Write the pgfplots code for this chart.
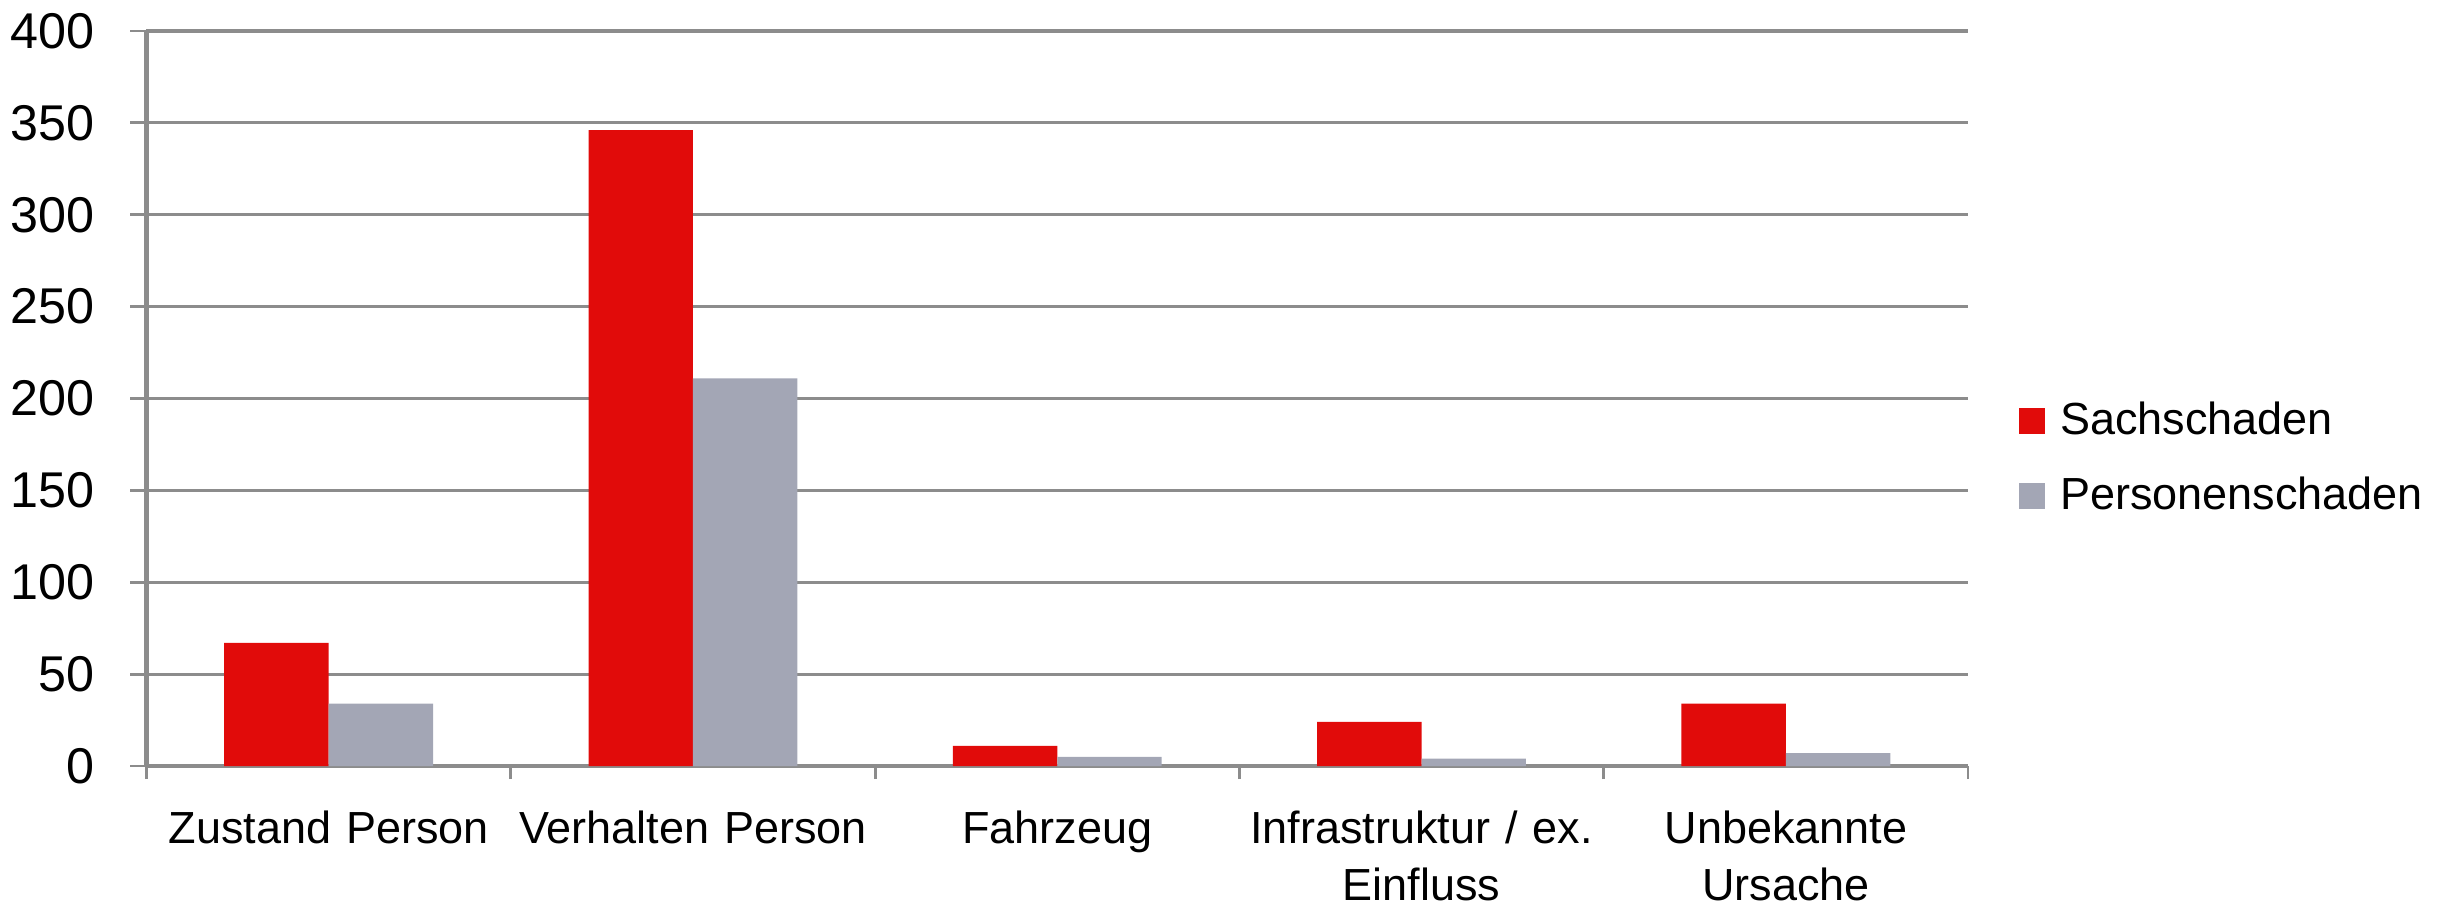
\documentclass[border=0pt]{standalone}
\usepackage{pgfplots}
\pgfplotsset{compat=1.18}
\usepackage{fontspec}
\setmainfont{Liberation Sans}
\definecolor{redbar}{HTML}{E10B0A}
\definecolor{graybar}{HTML}{A3A6B5}
\definecolor{gridgray}{HTML}{8C8C8C}
\begin{document}
\fontsize{12.8}{15}\selectfont
\begin{tikzpicture}
\useasboundingbox (-1.465,-1.42) rectangle (22.965,7.66);
\begin{axis}[
  at={(0,0)}, anchor=south west,
  scale only axis,
  width=18.215cm, height=7.35cm,
  xmin=-0.5, xmax=4.5,
  ymin=0, ymax=400,
  ytick={0,50,...,400},
  xtick={0,1,2,3,4},
  xticklabels={Zustand Person, Verhalten Person, Fahrzeug, Infrastruktur / ex.\\Einfluss, Unbekannte\\Ursache},
  minor xtick={-0.5,0.5,1.5,2.5,3.5,4.5},
  major x tick style={draw=none},
  minor tick length=0.13cm,
  major tick length=0.16cm,
  tick align=outside,
  tick style={gridgray, line width=0.8pt},
  axis x line*=bottom,
  axis y line*=left,
  axis line style={gridgray, line width=1.2pt, -},
  ymajorgrids,
  grid style={gridgray, line width=0.9pt},
  xticklabel style={align=center, text width=4cm, font=\fontsize{12.8}{16.2}\selectfont, yshift=-0.13cm},
  yticklabel style={font=\fontsize{14.3}{15}\selectfont, xshift=-0.2cm},
  /pgf/number format/assume math mode=true,
  ybar,
  bar width=0.2866,
  legend style={draw=none, fill=none, at={(1.022,0.418)}, anchor=west,
    font=\fontsize{12.8}{15}\selectfont, row sep=0.22cm},
  legend cell align=left,
  legend image code/.code={\fill[#1] (0cm,-0.13cm) rectangle (0.26cm,0.13cm);},
  legend style={/tikz/every odd column/.append style={column sep=0.08cm}},
]
\addplot[fill=redbar, draw=none, bar shift=-0.1433] coordinates {(0,67) (1,346) (2,11) (3,24) (4,34)};
\addplot[fill=graybar, draw=none, bar shift=0.1433] coordinates {(0,34) (1,211) (2,5) (3,4) (4,7)};
\legend{Sachschaden, Personenschaden}
\end{axis}
\end{tikzpicture}
\end{document}
